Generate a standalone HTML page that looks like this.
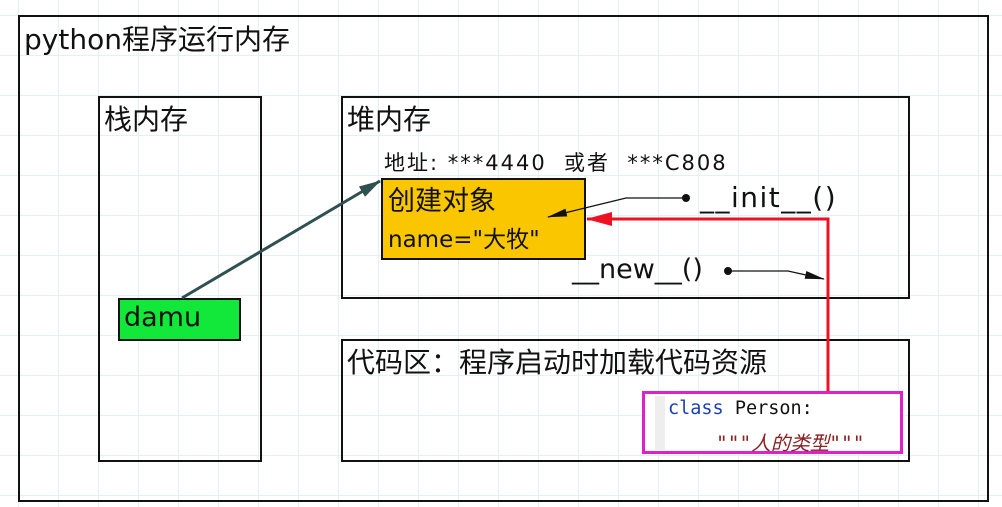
<!DOCTYPE html>
<html><head><meta charset="utf-8"><style>
body{margin:0;width:1002px;height:507px;overflow:hidden;background:#fff;
background-image:linear-gradient(#e4f1f1 1px,transparent 1px),linear-gradient(90deg,#e4f1f1 1px,transparent 1px);
background-size:40px 40px;background-position:18px 15px;position:relative;
font-family:"DejaVu Sans","Noto Sans CJK SC",sans-serif;color:#111}
.b{position:absolute;border:2px solid #111;box-sizing:border-box}
.t{position:absolute;white-space:nowrap}
</style></head><body>
<div class="b" style="left:18px;top:15px;width:971px;height:487px"></div>
<div class="t" style="left:24px;top:18px;font-size:28px">python程序运行内存</div>
<div class="b" style="left:98px;top:96px;width:164px;height:366px"></div>
<div class="t" style="left:104px;top:98px;font-size:28px">栈内存</div>
<div class="b" style="left:341px;top:96px;width:569px;height:203px"></div>
<div class="t" style="left:347px;top:98px;font-size:28px">堆内存</div>
<div class="t" style="left:384px;top:147px;font-size:21px;letter-spacing:2px">地址: ***4440&nbsp; 或者&nbsp; ***C808</div>
<div class="b" style="left:381px;top:178px;width:205px;height:82px;background:#f9c600"></div>
<div class="t" style="left:388px;top:179px;font-size:27px">创建对象</div>
<div class="t" style="left:388px;top:220px;font-size:23px">name="大牧"</div>
<div class="t" style="left:700px;top:181px;font-size:28px;letter-spacing:1.5px">__init__()</div>
<div class="t" style="left:572px;top:254px;font-size:27px">__new__()</div>
<div class="b" style="left:341px;top:339px;width:569px;height:123px"></div>
<div class="t" style="left:347px;top:341px;font-size:28px">代码区：程序启动时加载代码资源</div>
<div class="b" style="left:118px;top:298px;width:123px;height:43px;background:#11e83a"></div>
<div class="t" style="left:124px;top:302px;font-size:27px">damu</div>
<div style="position:absolute;left:642px;top:391px;width:261px;height:63px;border:3px solid #dd22cc;box-sizing:border-box;background:#fff"></div>
<div style="position:absolute;left:655px;top:396px;width:10px;height:54px;background:#eee"></div>
<div class="t" style="left:668px;top:398px;font-size:18.5px;font-family:'DejaVu Sans Mono',monospace"><span style="color:#1a3fb8">class</span> Person:</div>
<div class="t" style="left:716px;top:427px;font-size:19.5px;font-style:italic;color:#8b2020;font-family:'DejaVu Sans Mono','Noto Sans CJK SC',monospace">"""人的类型"""</div>
<svg style="position:absolute;left:0;top:0" width="1002" height="507">
<defs><marker id="a" markerWidth="20" markerHeight="10" refX="19" refY="5" orient="auto" markerUnits="userSpaceOnUse"><path d="M0,1 L20,5 L0,9 Z" fill="#111"/></marker>
<marker id="g" markerWidth="22" markerHeight="12" refX="21" refY="6" orient="auto" markerUnits="userSpaceOnUse"><path d="M0,0 L22,6 L0,12 Z" fill="#2f5050"/></marker>
<marker id="r" markerWidth="26" markerHeight="14" refX="25" refY="7" orient="auto" markerUnits="userSpaceOnUse"><path d="M0,0 L26,7 L0,14 Z" fill="#ee1122"/></marker></defs>
<line x1="182" y1="298" x2="380" y2="181" stroke="#2f5050" stroke-width="3" marker-end="url(#g)"/>
<polyline points="686,198 626,198 548,217" fill="none" stroke="#111" stroke-width="1.2" marker-end="url(#a)"/>
<circle cx="686" cy="198" r="4" fill="#111"/>
<polyline points="729,271 788,271 824,279" fill="none" stroke="#111" stroke-width="1.2" marker-end="url(#a)"/>
<circle cx="728" cy="271" r="4" fill="#111"/>
<polyline points="828,391 828,219 587,219" fill="none" stroke="#ee1122" stroke-width="3" marker-end="url(#r)"/>
</svg>
</body></html>
